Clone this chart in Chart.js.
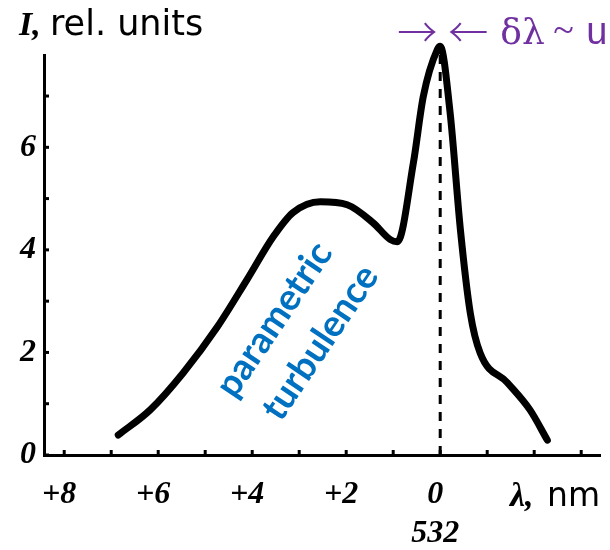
<!DOCTYPE html>
<html>
<head>
<meta charset="utf-8">
<script src="https://cdn.jsdelivr.net/npm/chart.js@4.4.1/dist/chart.umd.min.js"></script>
<style>
  html, body { margin: 0; padding: 0; background: #fff; }
  #wrap { width: 610px; height: 550px; }
</style>
</head>
<body>
<div id="wrap"><canvas id="spectrum" width="610" height="550"></canvas></div>
<script>
// shift from 532 nm (nm), listed from right to left of the picture
const shiftNm = [-2.28, -1.91, -1.43, -0.85, -0.64, -0.43, -0.21, 0.0, 0.06, 0.36, 0.57, 0.91, 1.06, 1.43, 1.98, 2.55, 3.13, 3.55, 4.11, 4.74, 5.47, 6.17, 6.85];
const intensity = [0.29, 0.88, 1.41, 1.99, 2.77, 4.39, 6.68, 7.97, 7.91, 6.99, 5.70, 4.16, 4.20, 4.53, 4.88, 4.94, 4.73, 4.26, 3.42, 2.50, 1.60, 0.88, 0.39];

// dashed marker at the pump line (532 nm)
const markerNm = [0, 0];
const markerLevel = [0, 7.8];

const xTickValues = [8, 6, 4, 2, 0];
const xTickLabels = ['+8', '+6', '+4', '+2', ['0', '532']];
const yTickValues = [0, 2, 4, 6];
const yTickLabels = ['0', '2', '4', '6'];

const tickFont = { family: "'Liberation Serif', serif", size: 32, style: 'italic', weight: 'bold' };

function intTicks(from, to) {
  const out = [];
  for (let v = from; v <= to; v++) out.push({ value: v });
  return out;
}

// text and small tick marks that Chart.js doesn't draw itself
const annotations = {
  id: 'annotations',
  afterDraw(chart) {
    const { ctx, scales: { x, y } } = chart;
    ctx.save();

    // little inward tick marks on both axes
    ctx.strokeStyle = '#000';
    ctx.lineWidth = 3;
    x.ticks.forEach(t => {
      const px = x.getPixelForValue(t.value);
      ctx.beginPath(); ctx.moveTo(px, y.bottom); ctx.lineTo(px, y.bottom - 5); ctx.stroke();
    });
    y.ticks.forEach(t => {
      const py = y.getPixelForValue(t.value);
      ctx.beginPath(); ctx.moveTo(x.left, py); ctx.lineTo(x.left + 5, py); ctx.stroke();
    });

    // axis titles
    ctx.fillStyle = '#000';
    ctx.textBaseline = 'alphabetic';
    ctx.textAlign = 'left';
    ctx.font = "italic bold 34px 'Liberation Serif'";
    ctx.fillText('I,', x.left - 25, y.top - 20);
    ctx.font = "35px 'DejaVu Sans'";
    ctx.fillText('rel. units', x.left + 6, y.top - 20);

    ctx.font = "italic bold 34px 'Liberation Serif'";
    ctx.fillText('\u03bb,', x.right - 90, y.bottom + 51);
    ctx.font = "33px 'DejaVu Sans'";
    ctx.fillText('nm', x.right - 53, y.bottom + 51);

    // linewidth annotation above the peak
    const x0 = x.getPixelForValue(0);
    ctx.fillStyle = '#7030a0';
    ctx.font = "300 40px 'Noto Sans CJK JP'";
    ctx.textAlign = 'right';
    ctx.fillText('\u2192', x0 - 3, 47);
    ctx.textAlign = 'left';
    ctx.fillText('\u2190', x0 + 8, 47);
    ctx.font = "36px 'DejaVu Serif'";
    ctx.fillText('\u03b4\u03bb', x0 + 60, 44);
    ctx.font = "38px 'Liberation Serif'";
    ctx.fillText('~', x0 + 113, 42);
    ctx.font = "38px 'Liberation Sans', sans-serif";
    ctx.fillText('u', x0 + 146, 44);

    // rotated label along the rising wing
    ctx.fillStyle = '#0070c0';
    ctx.font = "bold 37px Lato";
    ctx.textAlign = 'center';
    ctx.textBaseline = 'middle';
    [['parametric', 3.53, 2.64], ['turbulence', 2.55, 2.19]].forEach(([txt, vx, vy]) => {
      ctx.save();
      ctx.translate(x.getPixelForValue(vx), y.getPixelForValue(vy));
      ctx.rotate(-56 * Math.PI / 180);
      ctx.fillText(txt, 0, 0);
      ctx.restore();
    });

    ctx.restore();
  }
};

const ctx = document.getElementById('spectrum').getContext('2d');
new Chart(ctx, {
  type: 'line',
  data: {
    datasets: [
      {
        data: shiftNm.map((v, i) => ({ x: v, y: intensity[i] })),
        borderColor: '#000',
        borderWidth: 7,
        pointRadius: 0,
        cubicInterpolationMode: 'monotone',
        borderCapStyle: 'round',
        borderJoinStyle: 'round',
        fill: false,
        clip: false
      },
      {
        data: markerNm.map((v, i) => ({ x: v, y: markerLevel[i] })),
        borderColor: '#000',
        borderWidth: 3,
        borderDash: [9, 8],
        pointRadius: 0,
        fill: false,
        clip: false
      }
    ]
  },
  options: {
    responsive: false,
    animation: false,
    devicePixelRatio: 1,
    layout: { padding: { top: 55, right: 10, left: 0, bottom: 0 } },
    plugins: { legend: { display: false }, tooltip: { enabled: false } },
    scales: {
      x: {
        type: 'linear',
        reverse: true,
        min: -3.4,
        max: 8.43,
        afterBuildTicks: s => { s.ticks = intTicks(-3, 8); },
        afterFit: s => { s.height = 95; },
        grid: { display: false, drawTicks: false },
        border: { display: true, color: '#000', width: 3 },
        ticks: {
          font: tickFont,
          color: '#000',
          padding: 21,
          labelOffset: -5,
          maxRotation: 0,
          autoSkip: false,
          callback: v => {
            const i = xTickValues.indexOf(v);
            return i < 0 ? '' : xTickLabels[i];
          }
        }
      },
      y: {
        type: 'linear',
        min: 0,
        max: 7.8,
        afterBuildTicks: s => { s.ticks = intTicks(0, 7); },
        afterFit: s => { s.width = 44; },
        grid: { display: false, drawTicks: false },
        border: { display: true, color: '#000', width: 3 },
        ticks: {
          font: tickFont,
          color: '#000',
          padding: 8,
          callback: v => {
            const i = yTickValues.indexOf(v);
            return i < 0 ? '' : yTickLabels[i];
          }
        }
      }
    }
  },
  plugins: [annotations]
});
</script>
</body>
</html>
